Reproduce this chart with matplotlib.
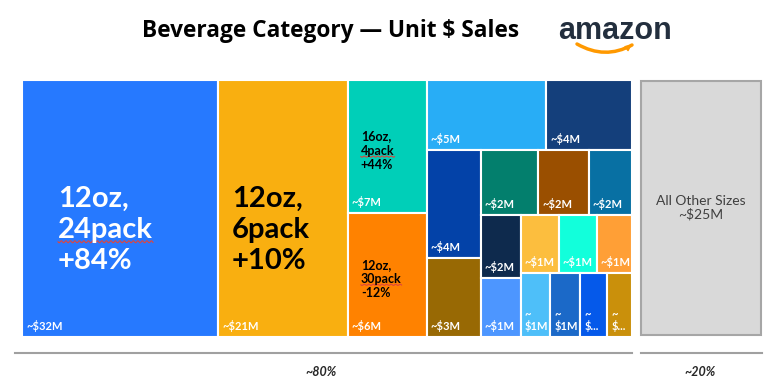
import numpy as np
import matplotlib
matplotlib.use('Agg')
import matplotlib.pyplot as plt
from matplotlib.patches import Rectangle, FancyArrowPatch, PathPatch
from matplotlib.path import Path

# $M sales per size
sales = [32.0, 21.2, 6.7, 6.2, 5.3, 3.8, 3.7, 2.7, 2.4, 2.1, 1.8,
         1.6, 1.5, 1.4, 1.4, 1.3, 1.2, 1.2, 1.1, 1.0]
value_labels = ['~$32M', '~$21M', '~$7M', '~$6M', '~$5M', '~$4M', '~$4M', '~$3M',
                '~$2M', '~$2M', '~$2M', '~$2M', '~$1M', '~$1M', '~$1M', '~$1M',
                '~\n$1M', '~\n$1M', '~\n$...', '~\n$...']
colors = ['#2679FF', '#F9AF10', '#00CFB8', '#FF8200', '#28ADF6', '#143F7B',
          '#0342A8', '#986904', '#037F6D', '#9A4F00', '#0870A3', '#0E2A4D',
          '#4D96FF', '#FCBE3E', '#12FFDB', '#FF9F36', '#4EBFF9', '#1B69C8',
          '#0559EA', '#CA900B']
# (index, lines, size, text colour, line with spell-check squiggle)
name_labels = [(0, ['12oz,', '24pack', '+84%'], 21, 'white', 1),
               (1, ['12oz,', '6pack', '+10%'], 21, 'black', None),
               (2, ['16oz,', '4pack', '+44%'], 9, 'black', 1),
               (3, ['12oz,', '30pack', '-12%'], 9, 'black', 1)]
other_sales = 25
other_label = 'All Other Sizes\n~$25M'
share_labels = ['~80%', '~20%']

# strips of the treemap: col = stacked vertically at the left, row = side by side on top
strips = [('col', 1), ('col', 1), ('col', 2), ('row', 2), ('col', 2),
          ('row', 3), ('col', 2), ('row', 3), ('row', 4)]


def strip_layout(vals, strips, x, y, w, h):
    rects = []
    i = 0
    for orient, n in strips:
        part = vals[i:i + n]
        frac = sum(part) / sum(vals[i:])
        if orient == 'col':
            sw = w * frac
            yy = y
            for v in part:
                hh = h * v / sum(part)
                rects.append((x, yy, sw, hh))
                yy += hh
            x += sw
            w -= sw
        else:
            sh = h * frac
            xx = x
            for v in part:
                ww = w * v / sum(part)
                rects.append((xx, y, ww, sh))
                xx += ww
            y += sh
            h -= sh
        i += n
    return rects


plt.rcParams['font.family'] = ['Lato', 'DejaVu Sans']
fig = plt.figure(figsize=(7.66, 3.88), dpi=100)
ax = fig.add_axes([0, 0, 1, 1])
ax.set_xlim(0, 766)
ax.set_ylim(388, 0)
ax.axis('off')

rects = strip_layout(sales, strips, 22, 80, 610, 257)
for (x, y, w, h), c, lab in zip(rects, colors, value_labels):
    ax.add_patch(Rectangle((x, y), w, h, facecolor=c, edgecolor='white', lw=1.5))
    ax.text(x + 4, y + h - 5, lab, color='white', fontsize=8, fontweight='bold',
            ha='left', va='bottom', linespacing=1.0)

fig.canvas.draw()
renderer = fig.canvas.get_renderer()
for idx, lines, size, tc, squiggle in name_labels:
    x, y, w, h = rects[idx]
    big = size > 12
    pad = 36 if idx == 0 else (14 if big else 13)
    yc = y + h * (0.575 if big else 0.525)
    px = size * 100 / 72
    step = px * (1.07 if big else 1.13)
    for k, line in enumerate(lines):
        base = yc + (k - 1) * step + 0.36 * px
        t = ax.text(x + pad, base, line, color=tc, fontsize=size, fontweight='bold',
                    ha='left', va='baseline')
        if k == squiggle:
            bb = t.get_window_extent(renderer).transformed(ax.transData.inverted())
            xs = np.linspace(bb.x0, bb.x1, 200)
            amp = 1.0 if big else 0.6
            ys = base + (0.12 if big else 0.16) * px + amp * np.sin((xs - bb.x0) * 2 * np.pi / 4.5)
            ax.plot(xs, ys, color='#E0463C', lw=0.8)

# all other sizes
ax.add_patch(Rectangle((641, 81), 120, 254, facecolor='#D9D9D9', edgecolor='#A6A6A6', lw=1.5))
ax.text(701, 208, other_label, ha='center', va='center', fontsize=10, color='#404040',
        linespacing=1.1)

# bottom brackets
ax.plot([15, 632], [353, 353], color='#A0A0A0', lw=1.5)
ax.plot([641, 762], [353, 353], color='#A0A0A0', lw=1.5)
ax.text(321, 372, share_labels[0], ha='center', va='center', fontsize=9,
        fontweight='bold', fontstyle='italic', color='#262626')
ax.text(700, 372, share_labels[1], ha='center', va='center', fontsize=9,
        fontweight='bold', fontstyle='italic', color='#262626')

# title
ax.text(331, 31, 'Beverage Category \u2014 Unit $ Sales', ha='center', va='center',
        fontsize=16.3, fontweight='bold', color='black',
        family=['Open Sans', 'DejaVu Sans'])

# amazon logo
ax.text(615, 31, 'amazon', ha='center', va='center', fontsize=22, fontweight='bold',
        color='#232F3E', family=['Liberation Sans', 'DejaVu Sans'])
smile = Path([(577, 44), (605, 60), (632, 45)], [Path.MOVETO, Path.CURVE3, Path.CURVE3])
ax.add_patch(PathPatch(smile, facecolor='none', edgecolor='#FF9900', lw=2.5, capstyle='round'))
ax.add_patch(FancyArrowPatch((626, 49), (634, 43), arrowstyle='-|>', mutation_scale=9,
                             color='#FF9900', lw=1))

fig.savefig('out.png', dpi=100)
